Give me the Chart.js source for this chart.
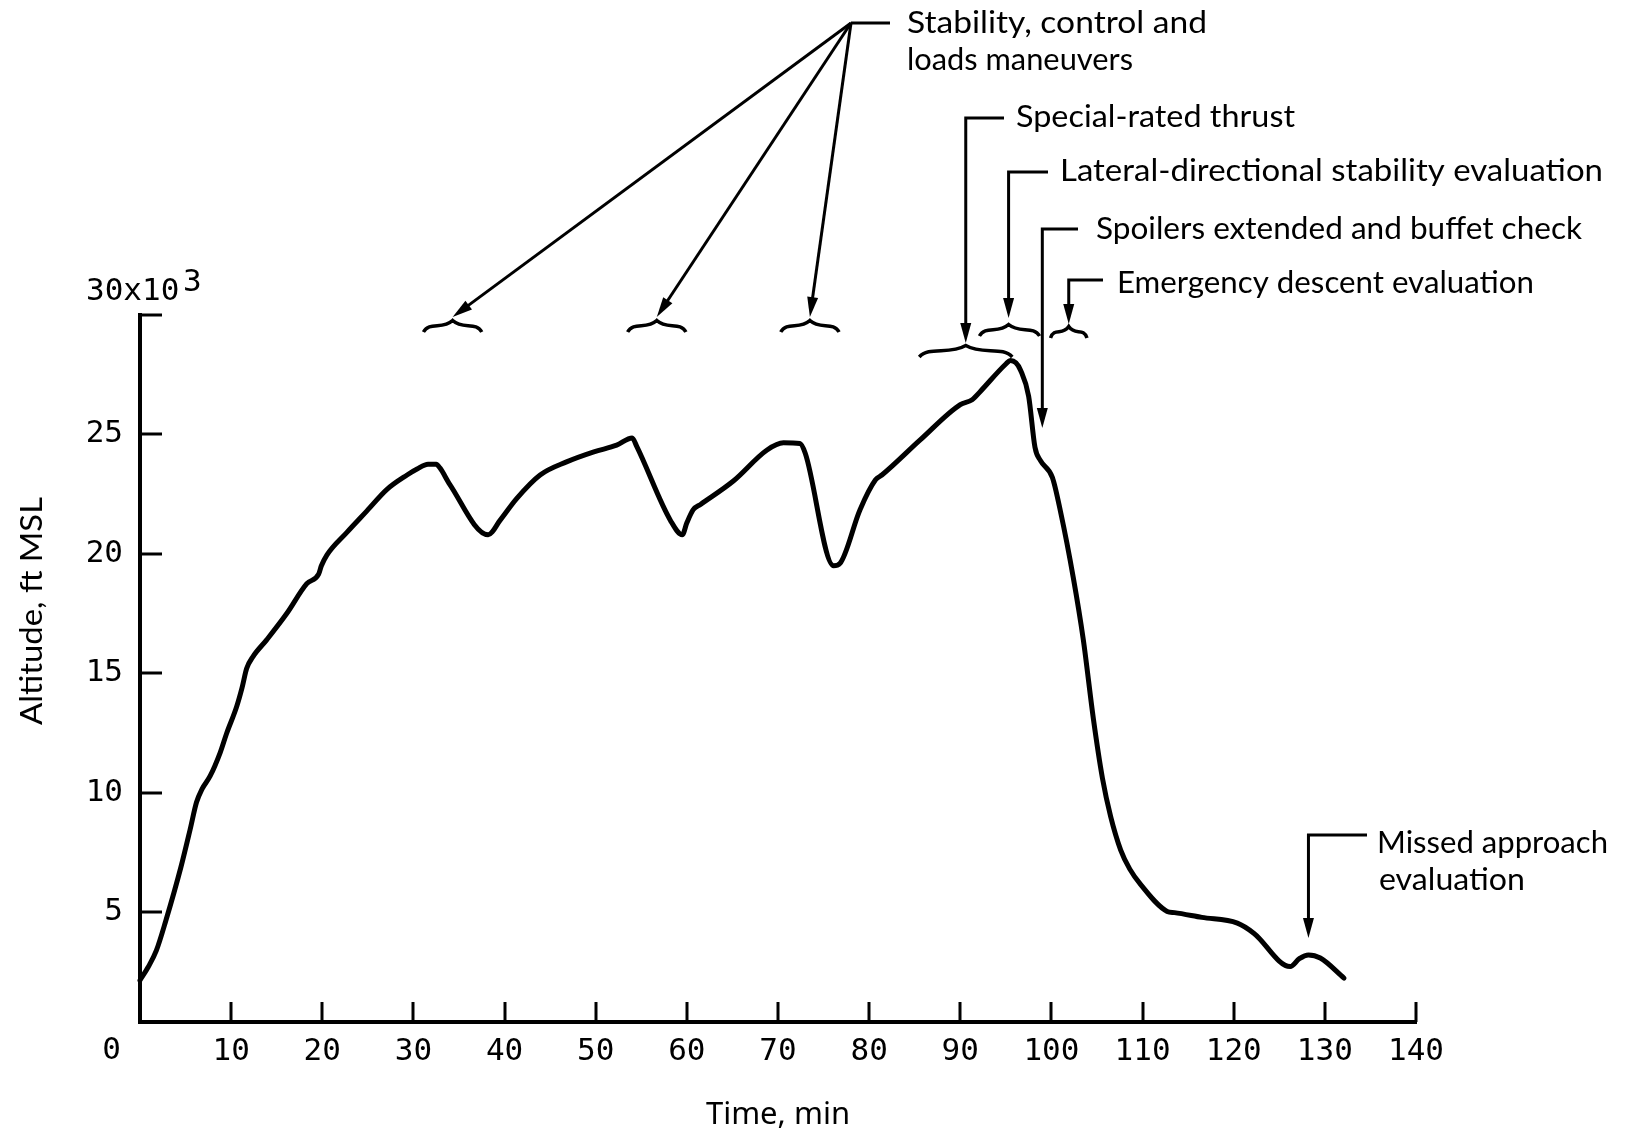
<!DOCTYPE html>
<html>
<head>
<meta charset="utf-8">
<script src="https://cdn.jsdelivr.net/npm/chart.js@4/dist/chart.umd.min.js"></script>
<style>html,body{margin:0;padding:0;background:#fff;}canvas{display:block;}</style>
</head>
<body>
<canvas id="c" width="1625" height="1134"></canvas>
<script>
// ---- data (time in minutes, altitude in thousands of ft MSL) ----
const timeMin = [0, 0.9, 1.8, 2.8, 4.5, 5.5, 6.2, 6.8, 7.7, 8.8, 9.5, 10.6, 11.2, 11.7, 12.4, 13.9, 16.1, 18.3, 19.6, 19.9, 20.5,
  22.7, 24.9, 27.1, 29.3, 30.4, 31.6, 32.5, 32.9, 34.0, 38.2, 39.5, 41.3, 43.9, 46.8, 49.8, 52.3, 54.0, 54.5, 58.2, 59.5, 60.0,
  60.7, 61.5, 65.1, 68.8, 70.6, 72.4, 73.0, 76.1, 76.8, 79.0, 80.7, 81.4, 85.6, 90.0, 91.3, 92.2, 95.0, 95.5, 96.1, 96.6, 97.5, 98.2, 98.8,
  100.1, 101.0, 102.4, 103.5, 104.6, 105.6, 106.5, 107.6, 108.6, 109.8, 112.7, 113.5, 116.5, 120.4, 122.2, 126.2, 127.2, 128.2, 129.5, 132.1];
const altitudeKft = [2.15, 2.7, 3.4, 4.6, 6.9, 8.46, 9.6, 10.15, 10.7, 11.68, 12.48, 13.6, 14.4, 15.2, 15.7, 16.4, 17.5, 18.75, 19.15, 19.5, 19.95,
  20.9, 21.8, 22.7, 23.3, 23.55, 23.75, 23.75, 23.6, 22.9, 20.8, 21.4, 22.3, 23.3, 23.85, 24.27, 24.55, 24.85, 24.5, 21.4, 20.8, 21.3,
  21.85, 22.07, 23.05, 24.35, 24.65, 24.62, 24.2, 19.5, 19.6, 21.85, 23.1, 23.3, 24.77, 26.25, 26.45, 26.8, 27.95, 28.1, 28.0, 27.7, 26.6, 24.45, 23.9,
  23.2, 21.76, 19.0, 16.4, 13.1, 10.6, 9.0, 7.6, 6.8, 6.15, 5.03, 4.98, 4.78, 4.54, 4.12, 2.72, 3.05, 3.21, 3.08, 2.24];
const xTickValues = [0, 10, 20, 30, 40, 50, 60, 70, 80, 90, 100, 110, 120, 130, 140];
const yTickValues = [5, 10, 15, 20, 25, 30];
const xTitle = 'Time, min';
const yTitle = 'Altitude, ft MSL';

// annotation time ranges (minutes): [start, end, cusp]
const maneuverBraces = [[31.1, 37.5, 34.3], [53.5, 59.9, 56.7], [70.3, 76.7, 73.5]];
const specialBrace = [85.5, 95.7, 90.6];
const lateralBrace = [92.1, 98.7, 95.3];
const emergencyBrace = [99.9, 103.9, 101.9];
const spoilersTime = 99.0;
const missedTime = 128.2;

const points = timeMin.map((t, i) => ({ x: t, y: altitudeKft[i] }));

const MONO = '"DejaVu Sans Mono", "Liberation Mono", monospace';
const SANS = 'Lato, "Noto Sans", sans-serif';

function fitText(ctx, text, x, baseline, width, size) {
  ctx.save();
  ctx.font = size + 'px ' + SANS;
  const w = ctx.measureText(text).width;
  ctx.translate(x, baseline);
  ctx.scale(width / w, 1);
  ctx.textAlign = 'left';
  ctx.textBaseline = 'alphabetic';
  ctx.fillStyle = '#000';
  ctx.fillText(text, 0, 0);
  ctx.restore();
}
function line(ctx, pts, w) {
  ctx.beginPath();
  ctx.moveTo(pts[0][0], pts[0][1]);
  for (let i = 1; i < pts.length; i++) ctx.lineTo(pts[i][0], pts[i][1]);
  ctx.lineWidth = w || 3;
  ctx.stroke();
}
function arrowHead(ctx, x1, y1, x2, y2) {
  const a = Math.atan2(y2 - y1, x2 - x1), L = 20, H = 5.5;
  ctx.beginPath();
  ctx.moveTo(x2, y2);
  ctx.lineTo(x2 - L * Math.cos(a) + H * Math.sin(a), y2 - L * Math.sin(a) - H * Math.cos(a));
  ctx.lineTo(x2 - L * Math.cos(a) - H * Math.sin(a), y2 - L * Math.sin(a) + H * Math.cos(a));
  ctx.closePath();
  ctx.fill();
}
function arrow(ctx, x1, y1, x2, y2) {
  const a = Math.atan2(y2 - y1, x2 - x1);
  line(ctx, [[x1, y1], [x2 - 12 * Math.cos(a), y2 - 12 * Math.sin(a)]], 3);
  arrowHead(ctx, x1, y1, x2, y2);
}
function brace(ctx, xl, xr, xc, y) {
  const h = 5, wl = xc - xl, wr = xr - xc;
  ctx.beginPath();
  ctx.moveTo(xl, y + h);
  ctx.bezierCurveTo(xl + 0.2 * wl, y - 1.2 * h, xc - 0.35 * wl, y + 0.6 * h, xc, y - 1.3 * h);
  ctx.bezierCurveTo(xc + 0.35 * wr, y + 0.6 * h, xr - 0.2 * wr, y - 1.2 * h, xr, y + h);
  ctx.lineWidth = 3.5;
  ctx.stroke();
}

const decor = {
  id: 'decor',
  afterDraw(chart) {
    const ctx = chart.ctx, xs = chart.scales.x, ys = chart.scales.y, ca = chart.chartArea;
    ctx.save();
    ctx.strokeStyle = '#000';
    ctx.fillStyle = '#000';
    ctx.lineCap = 'butt';
    // inward tick marks
    xTickValues.filter(v => v > 0).forEach(v => {
      const px = Math.round(xs.getPixelForValue(v));
      line(ctx, [[px, ca.bottom], [px, ca.bottom - 20]], 3);
    });
    yTickValues.forEach(v => {
      const py = Math.round(ys.getPixelForValue(v));
      line(ctx, [[ca.left, py], [ca.left + 22, py]], 3);
    });
    // corner zero and top label
    ctx.font = '31px ' + MONO;
    ctx.textAlign = 'center';
    ctx.textBaseline = 'middle';
    ctx.fillText('0', 111.5, 1051);
    ctx.textAlign = 'left';
    ctx.textBaseline = 'alphabetic';
    ctx.fillText('30x10', 86, 300);
    ctx.fillText('3', 183, 291);
    // y title rotated
    ctx.save();
    ctx.translate(42, 725);
    ctx.rotate(-Math.PI / 2);
    ctx.font = '31px ' + SANS;
    const w = ctx.measureText(yTitle).width;
    ctx.scale(228 / w, 1);
    ctx.fillText(yTitle, 0, 0);
    ctx.restore();

    const X = v => xs.getPixelForValue(v);
    // maneuver braces and arrows
    const apex = [851, 23];
    line(ctx, [apex, [890, 23]], 3);
    maneuverBraces.forEach(b => {
      brace(ctx, X(b[0]), X(b[1]), X(b[2]), 327);
      arrow(ctx, apex[0], apex[1], X(b[2]), 317);
    });
    fitText(ctx, 'Stability, control and', 907, 33, 300, 31);
    fitText(ctx, 'loads maneuvers', 907, 70, 226, 31);
    // special-rated thrust
    brace(ctx, X(specialBrace[0]), X(specialBrace[1]), X(specialBrace[2]), 352);
    const sx = X(specialBrace[2]);
    line(ctx, [[1004, 118], [sx, 118], [sx, 330]], 3);
    arrowHead(ctx, sx, 118, sx, 343);
    fitText(ctx, 'Special-rated thrust', 1016, 127, 279, 31);
    // lateral-directional
    brace(ctx, X(lateralBrace[0]), X(lateralBrace[1]), X(lateralBrace[2]), 331);
    const lx = X(lateralBrace[2]);
    line(ctx, [[1048, 172], [lx, 172], [lx, 305]], 3);
    arrowHead(ctx, lx, 172, lx, 318);
    fitText(ctx, 'Lateral-directional stability evaluation', 1060, 181, 543, 31);
    // spoilers
    const px = X(spoilersTime);
    line(ctx, [[1078, 229], [px, 229], [px, 414]], 3);
    arrowHead(ctx, px, 229, px, 428);
    fitText(ctx, 'Spoilers extended and buffet check', 1096, 239, 486, 31);
    // emergency descent
    brace(ctx, X(emergencyBrace[0]), X(emergencyBrace[1]), X(emergencyBrace[2]), 333);
    const ex = X(emergencyBrace[2]);
    line(ctx, [[1103, 280], [ex, 280], [ex, 311]], 3);
    arrowHead(ctx, ex, 280, ex, 324);
    fitText(ctx, 'Emergency descent evaluation', 1117, 293, 417, 31);
    // missed approach
    const mx = X(missedTime);
    line(ctx, [[1367, 835], [mx, 835], [mx, 924]], 3);
    arrowHead(ctx, mx, 835, mx, 938);
    fitText(ctx, 'Missed approach', 1377, 853, 231, 31);
    fitText(ctx, 'evaluation', 1379, 890, 146, 31);
    ctx.restore();
  }
};

new Chart(document.getElementById('c').getContext('2d'), {
  type: 'scatter',
  data: {
    datasets: [{
      data: points,
      showLine: true,
      borderColor: '#000',
      backgroundColor: '#000',
      borderWidth: 5,
      pointRadius: 0,
      cubicInterpolationMode: 'monotone',
      borderCapStyle: 'round',
      borderJoinStyle: 'round',
      fill: false,
      clip: false
    }]
  },
  options: {
    responsive: false,
    animation: false,
    devicePixelRatio: 1,
    layout: { padding: { left: 0, top: 315, right: 209, bottom: 0 } },
    plugins: { legend: { display: false }, tooltip: { enabled: false } },
    scales: {
      x: {
        type: 'linear', min: 0, max: 140,
        afterBuildTicks: s => { s.ticks = xTickValues.map(v => ({ value: v })); },
        afterFit: s => { s.height = 112; },
        grid: { display: false, drawTicks: false },
        border: { display: true, color: '#000', width: 4 },
        ticks: {
          color: '#000', padding: 11, maxRotation: 0, autoSkip: false,
          font: { family: MONO, size: 31 },
          callback: v => (v === 0 ? '' : String(v))
        },
        title: { display: true, text: xTitle, color: '#000', font: { family: '"Noto Sans", sans-serif', size: 31 }, padding: { top: 0, bottom: 0 } }
      },
      y: {
        type: 'linear', min: 0.4, max: 30,
        afterBuildTicks: s => { s.ticks = yTickValues.map(v => ({ value: v })); },
        afterFit: s => { s.width = 140; },
        grid: { display: false, drawTicks: false },
        border: { display: true, color: '#000', width: 4 },
        ticks: {
          color: '#000', padding: 17, autoSkip: false,
          font: { family: MONO, size: 31 },
          callback: v => (v === 30 ? '' : String(v))
        },
        title: { display: false }
      }
    }
  },
  plugins: [decor]
});
</script>
</body>
</html>
